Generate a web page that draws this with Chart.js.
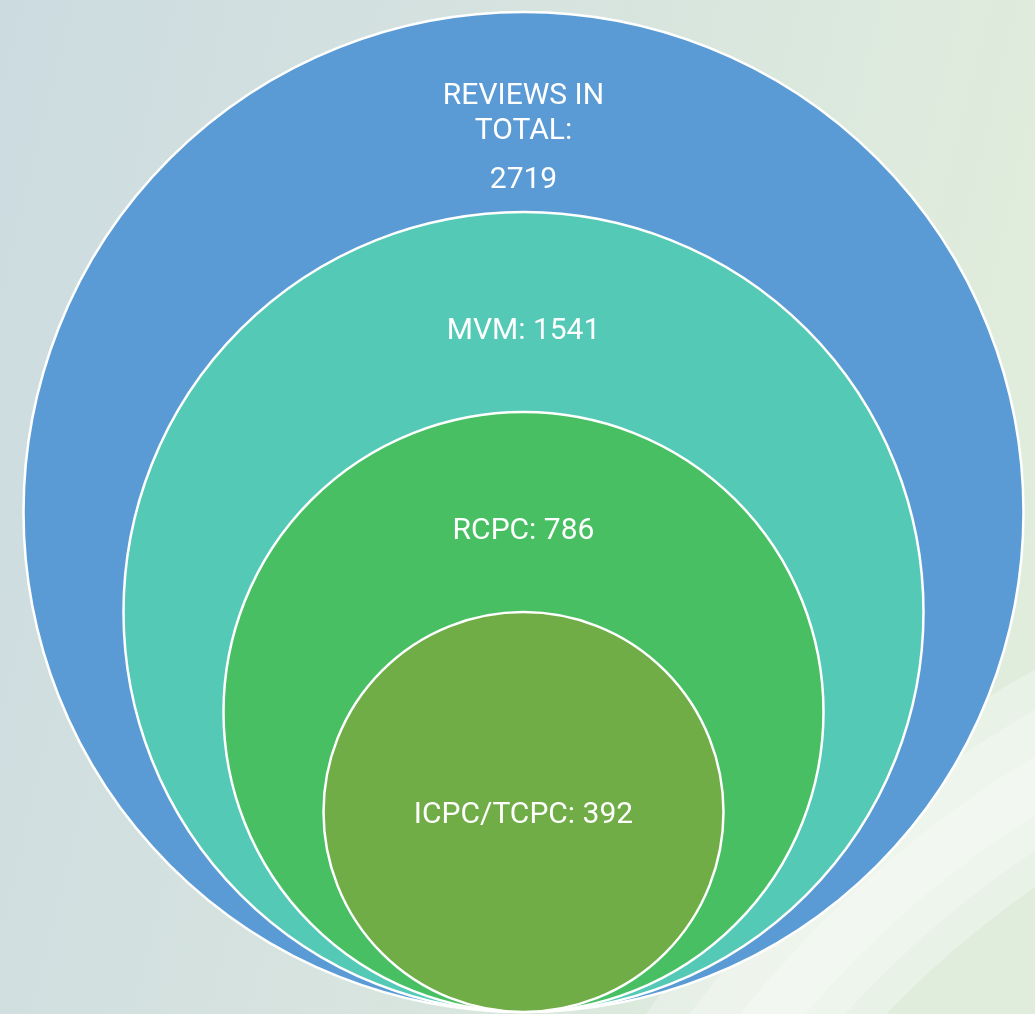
<!DOCTYPE html>
<html>
<head>
<meta charset="utf-8">
<script src="https://cdn.jsdelivr.net/npm/chart.js@4/dist/chart.umd.min.js"></script>
<style>
  html, body { margin: 0; padding: 0; overflow: hidden; }
  #wrap { width: 1035px; height: 1014px; position: relative; }
</style>
</head>
<body>
<div id="wrap"><canvas id="circles"></canvas></div>
<script>
// nested circles, outermost first
const categories = [['REVIEWS IN', 'TOTAL:'], 'MVM:', 'RCPC:', 'ICPC/TCPC:'];
const reviewCounts = [2719, 1541, 786, 392];
const circleColors = ['#5B9BD5', '#53C9B6', '#49BF63', '#70AD47'];

// each circle is one step bigger than the one inside it, all touching at the bottom
const level = i => categories.length + 1 - i;

const backdrop = {
    id: 'backdrop',
    beforeDraw(chart) {
        const { ctx, width, height } = chart;
        ctx.save();
        const g = ctx.createLinearGradient(0, 0, width, height * 0.25);
        g.addColorStop(0, '#CCDBE0');
        g.addColorStop(0.5, '#D6E3DF');
        g.addColorStop(1, '#E0EDDC');
        ctx.fillStyle = g;
        ctx.fillRect(0, 0, width, height);

        // light swoosh band in the bottom right corner
        const band = (r0, r1, alpha) => {
            ctx.beginPath();
            ctx.arc(1600, 1700, r1, 0, Math.PI * 2);
            ctx.arc(1600, 1700, r0, 0, Math.PI * 2, true);
            ctx.fillStyle = 'rgba(255,255,255,' + alpha + ')';
            ctx.fill();
        };
        band(990, 1175, 0.3);
        band(1020, 1140, 0.25);
        band(1050, 1100, 0.25);
        ctx.restore();
    }
};

const circleLabels = {
    id: 'circleLabels',
    afterDatasetsDraw(chart) {
        const { ctx, scales: { x, y } } = chart;
        ctx.save();
        ctx.fillStyle = '#FFFFFF';
        ctx.font = '30px Roboto';
        ctx.textAlign = 'center';
        ctx.textBaseline = 'alphabetic';
        const cx = x.getPixelForValue(0);
        categories.forEach((cat, i) => {
            const lv = level(i);
            const last = i === categories.length - 1;
            const base = y.getPixelForValue(last ? lv - 0.11 : 2 * lv - 1.27);
            if (Array.isArray(cat)) {
                cat.forEach((ln, k) => ctx.fillText(ln, cx, base - (cat.length - 1 - k) * 35));
                ctx.fillText(String(reviewCounts[i]), cx, base + 49);
            } else {
                ctx.fillText(cat + ' ' + reviewCounts[i], cx, base);
            }
        });
        ctx.restore();
    }
};

new Chart(document.getElementById('circles'), {
    type: 'scatter',
    data: {
        datasets: [{
            data: categories.map((c, i) => ({ x: 0, y: level(i) })),
            showLine: false,
            clip: false,
            pointBackgroundColor: circleColors,
            pointBorderColor: '#FFFFFF',
            pointBorderWidth: 2.5,
            pointRadius: ctx => {
                const sx = ctx.chart.scales.x;
                const r = sx.getPixelForValue(level(ctx.dataIndex)) - sx.getPixelForValue(0);
                return isNaN(r) ? 0 : r;
            }
        }]
    },
    options: {
        responsive: true,
        maintainAspectRatio: false,
        animation: false,
        events: [],
        layout: { padding: 0 },
        scales: {
            x: { type: 'linear', min: -5.235, max: 5.115, display: false },
            y: { type: 'linear', min: -0.02, max: 10.12, display: false }
        },
        plugins: {
            legend: { display: false },
            tooltip: { enabled: false }
        }
    },
    plugins: [backdrop, circleLabels]
});
</script>
</body>
</html>
